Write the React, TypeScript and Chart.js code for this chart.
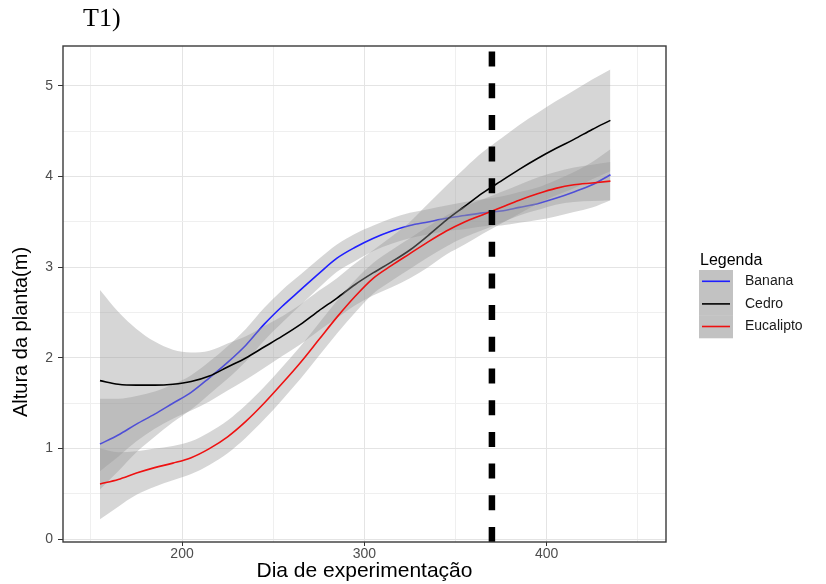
import React, { useEffect, useRef } from "react";
import { Chart, registerables } from "chart.js";

Chart.register(...registerables);

// ---------- data ----------
const days = [155, 165, 175, 185, 195, 205, 215, 225, 235, 245, 255, 265, 275, 285, 295, 305, 315, 325, 335, 345, 355, 365, 375, 385, 395, 405, 415, 425, 435];

const bananaHeight = [1.05, 1.15, 1.27, 1.38, 1.5, 1.62, 1.78, 1.95, 2.14, 2.37, 2.57, 2.75, 2.93, 3.1, 3.22, 3.32, 3.4, 3.46, 3.5, 3.54, 3.57, 3.6, 3.62, 3.66, 3.7, 3.76, 3.83, 3.91, 4.02];
const bananaLower = [0.55, 0.75, 0.96, 1.13, 1.29, 1.43, 1.6, 1.77, 1.96, 2.19, 2.39, 2.58, 2.77, 2.95, 3.07, 3.18, 3.26, 3.32, 3.36, 3.4, 3.42, 3.45, 3.46, 3.49, 3.52, 3.56, 3.61, 3.66, 3.74];
const bananaUpper = [1.55, 1.55, 1.58, 1.63, 1.71, 1.81, 1.96, 2.13, 2.32, 2.55, 2.75, 2.92, 3.09, 3.25, 3.37, 3.46, 3.54, 3.6, 3.64, 3.68, 3.72, 3.75, 3.78, 3.83, 3.88, 3.96, 4.05, 4.16, 4.3];

const cedroHeight = [1.75, 1.71, 1.7, 1.7, 1.71, 1.74, 1.8, 1.9, 2.0, 2.12, 2.24, 2.37, 2.52, 2.66, 2.81, 2.94, 3.06, 3.19, 3.35, 3.52, 3.67, 3.82, 3.95, 4.08, 4.2, 4.31, 4.41, 4.52, 4.62];
const cedroLower = [0.75, 0.91, 1.08, 1.22, 1.33, 1.42, 1.52, 1.64, 1.76, 1.89, 2.02, 2.15, 2.3, 2.44, 2.58, 2.69, 2.78, 2.88, 3.0, 3.14, 3.25, 3.37, 3.48, 3.59, 3.7, 3.79, 3.87, 3.97, 4.06];
const cedroUpper = [2.75, 2.51, 2.32, 2.18, 2.09, 2.06, 2.08, 2.16, 2.24, 2.35, 2.46, 2.59, 2.74, 2.88, 3.04, 3.19, 3.34, 3.5, 3.7, 3.9, 4.09, 4.27, 4.42, 4.57, 4.7, 4.83, 4.95, 5.07, 5.18];

const eucaliptoHeight = [0.61, 0.66, 0.73, 0.79, 0.84, 0.9, 1.0, 1.13, 1.3, 1.5, 1.72, 1.95, 2.2, 2.45, 2.68, 2.88, 3.02, 3.15, 3.28, 3.4, 3.5, 3.58, 3.66, 3.74, 3.81, 3.87, 3.91, 3.93, 3.95];
const eucaliptoLower = [0.22, 0.36, 0.49, 0.58, 0.65, 0.72, 0.82, 0.95, 1.12, 1.32, 1.54, 1.77, 2.02, 2.27, 2.5, 2.71, 2.85, 2.98, 3.11, 3.23, 3.33, 3.41, 3.49, 3.57, 3.63, 3.69, 3.72, 3.73, 3.74];
const eucaliptoUpper = [1.0, 0.96, 0.97, 1.0, 1.03, 1.08, 1.18, 1.31, 1.48, 1.68, 1.9, 2.13, 2.38, 2.63, 2.86, 3.05, 3.19, 3.32, 3.45, 3.57, 3.67, 3.75, 3.83, 3.91, 3.99, 4.05, 4.1, 4.13, 4.16];

const seriesNames = ["Banana", "Cedro", "Eucalipto"];
const seriesColors = ["#1f1fff", "#000000", "#ee1111"];
const markerDay = 370;

const xGridValues = [150, 200, 250, 300, 350, 400, 450];
const xTickLabels = [200, 300, 400];
const yGridValues = [0, 0.5, 1, 1.5, 2, 2.5, 3, 3.5, 4, 4.5, 5];
const yTickLabels = [0, 1, 2, 3, 4, 5];

const xMin = 134.7;
const xMax = 465.5;
const yMin = -0.03;
const yMax = 5.44;

const chartTitle = "T1)";
const xTitle = "Dia de experimentação";
const yTitle = "Altura da planta(m)";
const legendTitle = "Legenda";

// ---------- helpers ----------
const pts = (ys: number[]) => days.map((d, i) => ({ x: d, y: ys[i] }));
const RIBBON = "rgba(153,153,153,0.4)";
const FONT = "'Liberation Sans', Arial, sans-serif";

const panelBorder = {
  id: "panelBorder",
  afterDatasetsDraw(chart: any) {
    const { ctx, chartArea: a } = chart;
    ctx.save();
    ctx.strokeStyle = "#3a3a3a";
    ctx.lineWidth = 1.4;
    ctx.strokeRect(a.left, a.top, a.right - a.left, a.bottom - a.top);
    ctx.restore();
  },
};

const yTitlePlugin = {
  id: "yTitlePlugin",
  afterDraw(chart: any) {
    const ctx = chart.ctx;
    ctx.save();
    ctx.translate(21, 332);
    ctx.rotate(-Math.PI / 2);
    ctx.fillStyle = "#000";
    ctx.font = `20px ${FONT}`;
    ctx.textAlign = "center";
    ctx.textBaseline = "middle";
    ctx.fillText(yTitle, 0, 0);
    ctx.restore();
  },
};

const ggLegend = {
  id: "ggLegend",
  afterDraw(chart: any) {
    const ctx = chart.ctx;
    const x0 = 699;
    const yTop = 270;
    const keyH = 22.6;
    ctx.save();
    ctx.fillStyle = "#000";
    ctx.font = `16px ${FONT}`;
    ctx.textBaseline = "alphabetic";
    ctx.textAlign = "left";
    ctx.fillText(legendTitle, 700, 265);
    seriesNames.forEach((name, i) => {
      const y = yTop + i * keyH;
      ctx.fillStyle = "#c2c2c2";
      ctx.fillRect(x0, y, 34, keyH + 0.5);
      ctx.strokeStyle = seriesColors[i];
      ctx.lineWidth = 1.6;
      ctx.beginPath();
      ctx.moveTo(x0 + 3, y + keyH / 2);
      ctx.lineTo(x0 + 31, y + keyH / 2);
      ctx.stroke();
      ctx.fillStyle = "#1a1a1a";
      ctx.font = `14px ${FONT}`;
      ctx.textBaseline = "middle";
      ctx.fillText(name, 745, y + keyH / 2);
    });
    ctx.restore();
  },
};

export default function App() {
  const ref = useRef<HTMLCanvasElement | null>(null);

  useEffect(() => {
    if (!ref.current) return;
    const ribbonSet = (lower: number[], upper: number[], target: number) => [
      {
        label: "lower",
        data: pts(lower),
        borderWidth: 0,
        pointRadius: 0,
        backgroundColor: RIBBON,
        fill: target,
        cubicInterpolationMode: "monotone",
      },
      {
        label: "upper",
        data: pts(upper),
        borderWidth: 0,
        pointRadius: 0,
        backgroundColor: RIBBON,
        fill: false,
        cubicInterpolationMode: "monotone",
      },
    ];
    const lineSet = (name: string, ys: number[], color: string) => ({
      label: name,
      data: pts(ys),
      borderColor: color,
      borderWidth: 1.6,
      pointRadius: 0,
      fill: false,
      cubicInterpolationMode: "monotone",
    });

    // dataset 0 is drawn on top; ggplot draws Banana first, then Cedro, then Eucalipto
    const datasets: any[] = [
      {
        label: "marker",
        data: [
          { x: markerDay, y: yMin },
          { x: markerDay, y: yMax },
        ],
        borderColor: "#000",
        borderWidth: 6.5,
        borderDash: [15, 16.7],
        pointRadius: 0,
        fill: false,
      },
      lineSet(seriesNames[2], eucaliptoHeight, seriesColors[2]),
      ...ribbonSet(eucaliptoLower, eucaliptoUpper, 3),
      lineSet(seriesNames[1], cedroHeight, seriesColors[1]),
      ...ribbonSet(cedroLower, cedroUpper, 6),
      lineSet(seriesNames[0], bananaHeight, seriesColors[0]),
      ...ribbonSet(bananaLower, bananaUpper, 9),
    ];

    const chart = new Chart(ref.current, {
      type: "line",
      data: { datasets },
      options: {
        animation: false,
        responsive: true,
        maintainAspectRatio: false,
        layout: { padding: { left: 0, top: 46, right: 160, bottom: 0 } },
        plugins: {
          legend: { display: false },
          tooltip: { enabled: false },
          title: { display: false },
        },
        scales: {
          x: {
            type: "linear",
            min: xMin,
            max: xMax,
            afterBuildTicks: (scale: any) => {
              scale.ticks = xGridValues.map((v) => ({ value: v }));
            },
            afterFit: (scale: any) => {
              scale.height = 42;
            },
            ticks: {
              autoSkip: false,
              maxRotation: 0,
              padding: 0,
              color: "#4d4d4d",
              font: { family: FONT, size: 14 },
              callback: (v: any) => (xTickLabels.includes(Number(v)) ? String(v) : ""),
            },
            grid: {
              color: (c: any) => (xTickLabels.includes(c.tick?.value) ? "#e4e4e4" : "#efefef"),
              lineWidth: 1,
              tickColor: (c: any) => (xTickLabels.includes(c.tick?.value) ? "#333" : "rgba(0,0,0,0)"),
              tickLength: 4,
              tickWidth: 1,
            },
            border: { display: false },
            title: {
              display: true,
              text: xTitle,
              color: "#000",
              font: { family: FONT, size: 21 },
              padding: { top: 0, bottom: 0 },
            },
          },
          y: {
            type: "linear",
            min: yMin,
            max: yMax,
            afterBuildTicks: (scale: any) => {
              scale.ticks = yGridValues.map((v) => ({ value: v }));
            },
            afterFit: (scale: any) => {
              scale.width = 63;
            },
            ticks: {
              autoSkip: false,
              padding: 5,
              color: "#4d4d4d",
              font: { family: FONT, size: 14 },
              callback: (v: any) => (yTickLabels.includes(Number(v)) ? String(v) : ""),
            },
            grid: {
              color: (c: any) => (yTickLabels.includes(c.tick?.value) ? "#e4e4e4" : "#efefef"),
              lineWidth: 1,
              tickColor: (c: any) => (yTickLabels.includes(c.tick?.value) ? "#333" : "rgba(0,0,0,0)"),
              tickLength: 5,
              tickWidth: 1,
            },
            border: { display: false },
            title: { display: false },
          },
        },
      } as any,
      plugins: [panelBorder, yTitlePlugin, ggLegend],
    });
    return () => chart.destroy();
  }, []);

  return (
    <div style={{ position: "absolute", left: 0, top: 0, width: 826, height: 584, background: "#fff" }}>
      <canvas ref={ref} />
      <div
        style={{
          position: "absolute",
          left: 83,
          top: 5,
          fontFamily: "'Liberation Serif', 'Times New Roman', serif",
          fontSize: 26,
          lineHeight: "26px",
          color: "#000",
        }}
      >
        {chartTitle}
      </div>
    </div>
  );
}
